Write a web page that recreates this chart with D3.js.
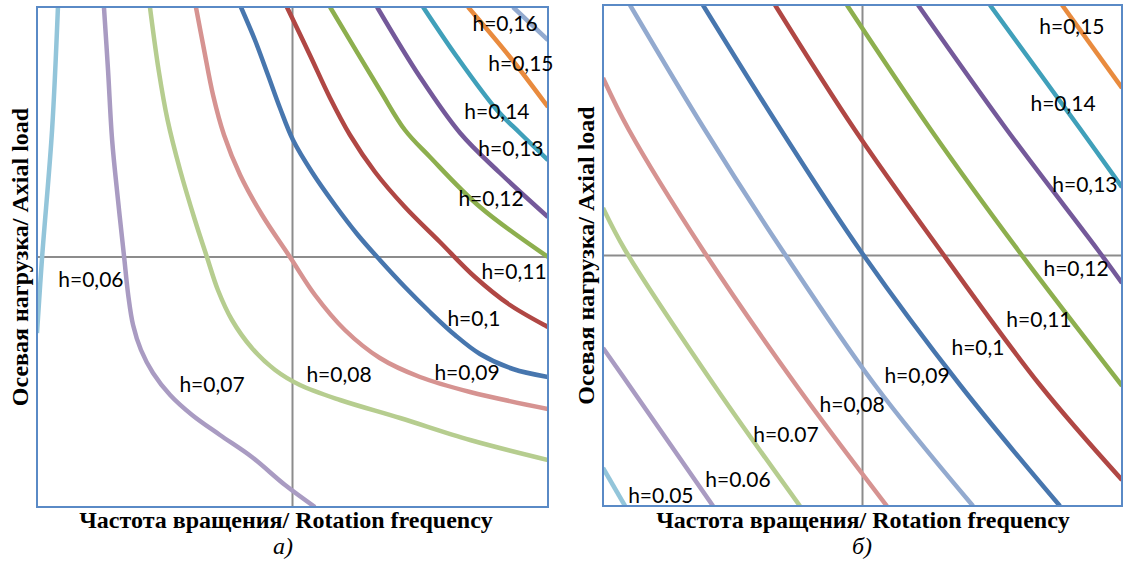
<!DOCTYPE html>
<html>
<head>
<meta charset="utf-8">
<script src="https://cdn.jsdelivr.net/npm/d3@7"></script>
<style>
  html, body { margin: 0; padding: 0; background: #fff; }
  svg { display: block; }
</style>
</head>
<body>
<svg id="chart" width="1124" height="563"></svg>
<script>
// ---------------- DATA (coded factor levels, -1 .. 1) ----------------
// Panel a) contour lines
const a_h005 = [[-0.918,1],[-0.941,0.508],[-0.98,0],[-1,-0.304]];
const a_h006 = [[-0.738,1],[-0.722,0.748],[-0.706,0.468],[-0.683,0.228],[-0.659,0],[-0.643,-0.152],[-0.624,-0.272],[-0.593,-0.372],[-0.546,-0.464],[-0.479,-0.552],[-0.393,-0.632],[-0.284,-0.712],[-0.159,-0.8],[-0.029,-0.912],[0.088,-1]];
const a_h007 = [[-0.558,1],[-0.524,0.748],[-0.489,0.548],[-0.44,0.348],[-0.382,0.148],[-0.335,0],[-0.292,-0.132],[-0.237,-0.252],[-0.159,-0.364],[-0.068,-0.452],[0.029,-0.512],[0.186,-0.572],[0.421,-0.644],[0.695,-0.732],[1,-0.812]];
const a_h008 = [[-0.378,1],[-0.346,0.828],[-0.311,0.648],[-0.268,0.488],[-0.205,0.328],[-0.119,0.168],[-0.01,0],[0.088,-0.152],[0.205,-0.292],[0.342,-0.404],[0.499,-0.48],[0.695,-0.54],[1,-0.608]];
const a_h009 = [[-0.202,1],[-0.147,0.868],[-0.096,0.728],[-0.049,0.596],[0.002,0.468],[0.076,0.34],[0.166,0.208],[0.256,0.088],[0.342,-0.012],[0.44,-0.12],[0.538,-0.22],[0.636,-0.312],[0.734,-0.388],[0.863,-0.448],[1,-0.48]];
const a_h010 = [[-0.022,1],[0.068,0.808],[0.147,0.636],[0.225,0.488],[0.323,0.34],[0.44,0.2],[0.577,0.06],[0.714,-0.08],[0.851,-0.192],[1,-0.28]];
const a_h011 = [[0.147,1],[0.342,0.668],[0.44,0.508],[0.538,0.4],[0.734,0.2],[1,0]];
const a_h012 = [[0.331,1],[0.499,0.72],[0.656,0.496],[0.812,0.336],[1,0.16]];
const a_h013 = [[0.511,1],[0.644,0.8],[0.8,0.588],[0.89,0.496],[1,0.388]];
const a_h014 = [[0.687,1],[0.851,0.8],[1,0.6]];
const a_h015 = [[0.863,1],[1,0.868]];

// Panel б) contour lines
const b_h005 = [[-1,-0.848],[-0.915,-1]];
const b_h006 = [[-1,-0.369],[-0.9,-0.517],[-0.576,-1]];
const b_h007 = [[-1,0.19],[-0.915,0.022],[-0.572,-0.517],[-0.241,-1]];
const b_h008 = [[-1,0.709],[-0.9,0.501],[-0.615,0.022],[-0.256,-0.517],[0.094,-1]];
const b_h009 = [[-0.896,1],[-0.607,0.501],[-0.31,0.022],[0.048,-0.517],[0.426,-1]];
const b_h010 = [[-0.615,1],[-0.314,0.501],[-0.01,0.022],[0.376,-0.517],[0.761,-1]];
const b_h011 = [[-0.337,1],[-0.029,0.501],[0.299,0.022],[0.684,-0.517],[1,-0.896]];
const b_h012 = [[-0.06,1],[0.264,0.501],[0.599,0.022],[1,-0.52]];
const b_h013 = [[0.214,1],[0.557,0.501],[0.907,0.022],[1,-0.11]];
const b_h014 = [[0.491,1],[0.842,0.501],[1,0.273]];
const b_h015 = [[0.769,1],[1,0.669]];

// Label texts and anchor positions (data coords)
const a_labelText = ["h=0,16","h=0,15","h=0,14","h=0,13","h=0,12","h=0,11","h=0,1","h=0,09","h=0,08","h=0,07","h=0,06"];
const a_labelX    = [0.832, 0.894, 0.800, 0.855, 0.777, 0.867, 0.710, 0.683, 0.182, -0.315, -0.789];
const a_labelY    = [0.94, 0.78, 0.588, 0.44, 0.24, -0.052, -0.24, -0.456, -0.464, -0.504, -0.084];

const b_labelText = ["h=0,15","h=0,14","h=0,13","h=0,12","h=0,11","h=0,1","h=0,09","h=0,08","h=0.07","h=0.06","h=0.05"];
const b_labelX    = [0.807, 0.773, 0.857, 0.823, 0.680, 0.445, 0.210, -0.040, -0.295, -0.480, -0.777];
const b_labelY    = [0.92, 0.609, 0.289, -0.046, -0.25, -0.365, -0.477, -0.589, -0.709, -0.892, -0.956];

const xTitle = "Частота вращения/ Rotation frequency";
const yTitle = "Осевая нагрузка/ Axial load";
const subTitles = ["а)", "б)"];

// ---------------- STYLE ----------------
const colA = ["#93C5DA","#A99BC2","#B6CD8F","#D69391","#4776AE","#B04744","#8DAF4E","#74599A","#40A0BA","#E98B3E","#93AACF"];
const colB = ["#93C5DA","#A99BC2","#B6CD8F","#D69391","#93AACF","#4776AE","#B04744","#8DAF4E","#74599A","#40A0BA","#E98B3E"];
const serif = "'Liberation Serif', Tinos, 'Times New Roman', serif";

const panels = [
  { box: {x0:37, x1:548, y0:7, y1:507}, lines: [a_h005,a_h006,a_h007,a_h008,a_h009,a_h010,a_h011,a_h012,a_h013,a_h014,a_h015], colors: colA,
    lt: a_labelText, lx: a_labelX, ly: a_labelY, titleX: 286, yTitleX: 28, sub: subTitles[0], subX: 283 },
  { box: {x0:603, x1:1122, y0:5, y1:506}, lines: [b_h005,b_h006,b_h007,b_h008,b_h009,b_h010,b_h011,b_h012,b_h013,b_h014,b_h015], colors: colB,
    lt: b_labelText, lx: b_labelX, ly: b_labelY, titleX: 863, yTitleX: 594, sub: subTitles[1], subX: 862 }
];

const svg = d3.select("#chart");

panels.forEach((p, i) => {
  const b = p.box;
  const x = d3.scaleLinear().domain([-1, 1]).range([b.x0, b.x1]);
  const y = d3.scaleLinear().domain([-1, 1]).range([b.y1, b.y0]);
  const g = svg.append("g");

  g.append("clipPath").attr("id", "clip" + i)
    .append("rect").attr("x", b.x0).attr("y", b.y0).attr("width", b.x1 - b.x0).attr("height", b.y1 - b.y0);

  // crosshair
  g.append("line").attr("x1", x(0)).attr("x2", x(0)).attr("y1", b.y0).attr("y2", b.y1)
    .attr("stroke", "#8C8C8C").attr("stroke-width", 2);
  g.append("line").attr("x1", b.x0).attr("x2", b.x1).attr("y1", y(0)).attr("y2", y(0))
    .attr("stroke", "#8C8C8C").attr("stroke-width", 2);

  const line = d3.line().x(d => x(d[0])).y(d => y(d[1])).curve(d3.curveCatmullRom.alpha(0.5));
  const lg = g.append("g").attr("clip-path", `url(#clip${i})`);
  p.lines.forEach((pts, k) => {
    lg.append("path").attr("d", line(pts)).attr("fill", "none")
      .attr("stroke", p.colors[k]).attr("stroke-width", 4.5).attr("stroke-linecap", "butt");
  });

  // border
  g.append("rect").attr("x", b.x0).attr("y", b.y0).attr("width", b.x1 - b.x0).attr("height", b.y1 - b.y0)
    .attr("fill", "none").attr("stroke", "#5A8AC6").attr("stroke-width", 2);

  // labels
  p.lt.forEach((t, k) => {
    g.append("text").attr("x", x(p.lx[k])).attr("y", y(p.ly[k]))
      .attr("text-anchor", "middle").attr("dominant-baseline", "central")
      .attr("font-family", "Lato, 'Open Sans', sans-serif").attr("font-size", 21)
      .attr("fill", "#000").text(t);
  });

  // x title
  g.append("text").attr("x", p.titleX).attr("y", 528).attr("text-anchor", "middle")
    .style("font-family", serif).style("font-weight", "bold")
    .style("font-size", "24px").text(xTitle);
  // y title
  const cy = (b.y0 + b.y1) / 2;
  g.append("text").attr("transform", `translate(${p.yTitleX},${cy}) rotate(-90)`)
    .attr("text-anchor", "middle")
    .style("font-family", serif).style("font-weight", "bold")
    .style("font-size", "24px").text(yTitle);
  // subtitle
  g.append("text").attr("x", p.subX).attr("y", 554).attr("text-anchor", "middle")
    .style("font-family", serif).style("font-style", "italic")
    .style("font-size", "24px").text(p.sub);
});
</script>
</body>
</html>
